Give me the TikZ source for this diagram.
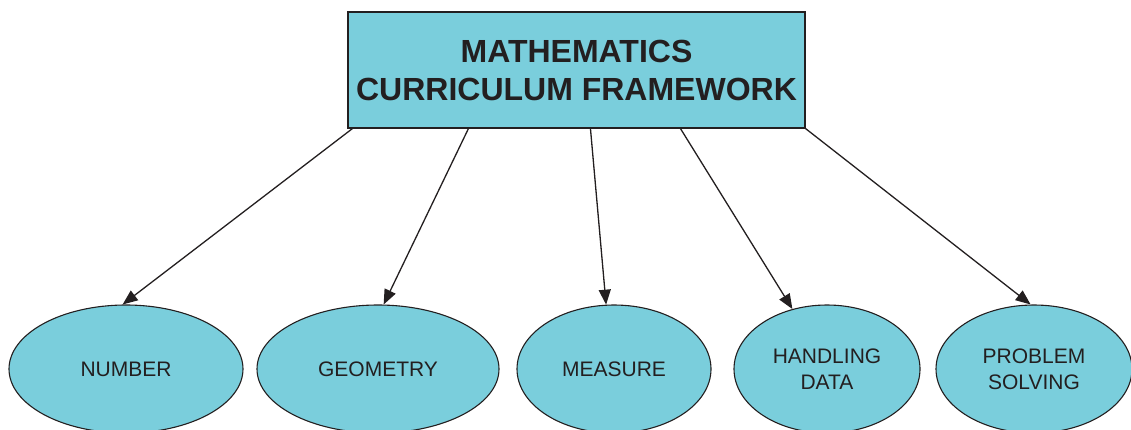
\documentclass[tikz,border=0pt]{standalone}
\usepackage{fontspec}
\setmainfont{Liberation Sans}
\usetikzlibrary{shapes.geometric,arrows.meta,calc}
\definecolor{fillc}{RGB}{122,206,220}
\definecolor{ink}{RGB}{35,31,32}
\begin{document}
\begin{tikzpicture}[x=1pt,y=-1pt,
 topbox/.style={draw=ink,fill=fillc,line width=1.1pt,minimum width=457pt,minimum height=116pt,inner sep=0pt,align=center,font=\fontsize{32}{36}\selectfont\bfseries,text=ink},
 topic/.style={ellipse,draw=ink,fill=fillc,line width=1.1pt,inner sep=0pt,minimum height=128pt,align=center,font=\fontsize{21}{26}\selectfont,text=ink},
 link/.style={draw=ink,line width=1.3pt,-{Triangle[length=15pt,width=12pt]}}]
\useasboundingbox (0,0) rectangle (1131,429);
\clip (0,0) rectangle (1131,429);
\node[topbox] (box) at (576.5,70) {\raisebox{2pt}{MATHEMATICS}\\CURRICULUM FRAMEWORK};
\node[topic,minimum width=234pt] (num) at (126,369) {NUMBER};
\node[topic,minimum width=242pt] (geo) at (378,369) {GEOMETRY};
\node[topic,minimum width=194pt] (mea) at (614,369) {MEASURE};
\node[topic,minimum width=186pt] (hd) at (827,369) {HANDLING\\DATA};
\node[topic,minimum width=196pt] (ps) at (1034,369) {PROBLEM\\SOLVING};
\coordinate (s1) at ($(box.south west)+(5,0)$);
\coordinate (s2) at ($(box.south west)+(121,0)$);
\coordinate (s3) at ($(box.south west)+(243,0)$);
\coordinate (s4) at ($(box.south west)+(333,0)$);
\coordinate (s5) at (box.south east);
\draw[link] (s1) -- (num.93);
\draw[link] (s2) -- (geo.85);
\draw[link] (s3) -- (mea.97);
\draw[link] (s4) -- (hd.120);
\draw[link] (s5) -- (ps.93);
\end{tikzpicture}
\end{document}
